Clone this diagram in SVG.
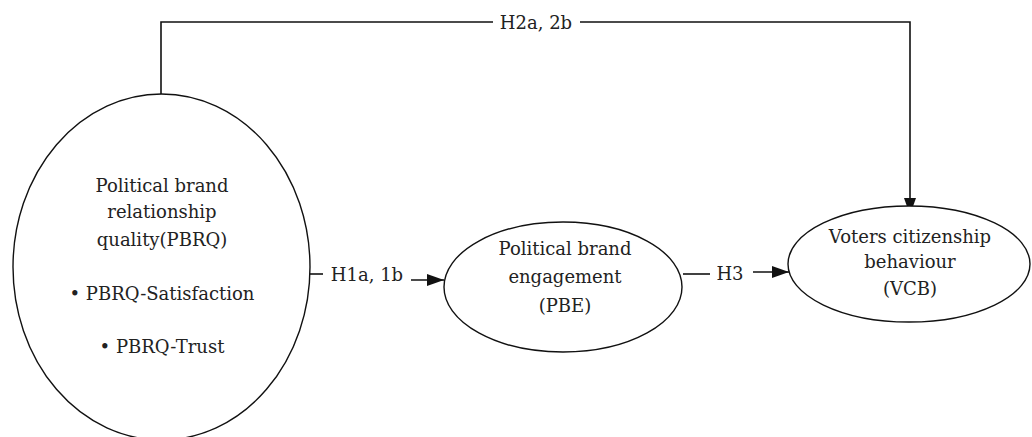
<svg xmlns="http://www.w3.org/2000/svg" width="1032" height="437" viewBox="0 0 1032 437" font-family="DejaVu Serif, Liberation Serif, serif">
<style>
.node{fill:#fff;stroke:#111;stroke-width:1.4}
.t{font-size:18px;fill:#222;text-anchor:middle}
.c{fill:none;stroke:#111;stroke-width:1.6}
</style>
<defs>
<marker id="ah" markerWidth="18" markerHeight="14" refX="17" refY="7" orient="auto" markerUnits="userSpaceOnUse">
<path d="M0,1 L17,7 L0,13 Z" fill="#111"/>
</marker>
</defs>
<rect width="1032" height="437" fill="#fff"/>
<g id="connectors">
<path class="c" d="M161,95 V22 H493"/>
<path class="c" d="M580,22 H910 V215" marker-end="url(#ah)"/>
<path class="c" d="M310,274 H323"/>
<path class="c" d="M411,280 H444" marker-end="url(#ah)"/>
<path class="c" d="M683,274 H710"/>
<path class="c" d="M753,272 H789" marker-end="url(#ah)"/>
<text class="t" x="536" y="29">H2a, 2b</text>
<text class="t" x="367" y="281">H1a, 1b</text>
<text class="t" x="730" y="280">H3</text>
</g>
<g id="pbrq">
<ellipse class="node" cx="161.5" cy="267" rx="148.5" ry="173"/>
<text class="t" x="162" y="192">Political brand</text>
<text class="t" x="162" y="218">relationship</text>
<text class="t" x="162" y="246">quality(PBRQ)</text>
<text class="t" x="162" y="300">• PBRQ-Satisfaction</text>
<text class="t" x="162" y="353">• PBRQ-Trust</text>
</g>
<g id="pbe">
<ellipse class="node" cx="563" cy="287" rx="119" ry="65"/>
<text class="t" x="565" y="255">Political brand</text>
<text class="t" x="565" y="283">engagement</text>
<text class="t" x="565" y="312">(PBE)</text>
</g>
<g id="vcb">
<ellipse class="node" cx="909" cy="264" rx="121" ry="58"/>
<text class="t" x="910" y="243">Voters citizenship</text>
<text class="t" x="910" y="268">behaviour</text>
<text class="t" x="910" y="295">(VCB)</text>
</g>
</svg>
